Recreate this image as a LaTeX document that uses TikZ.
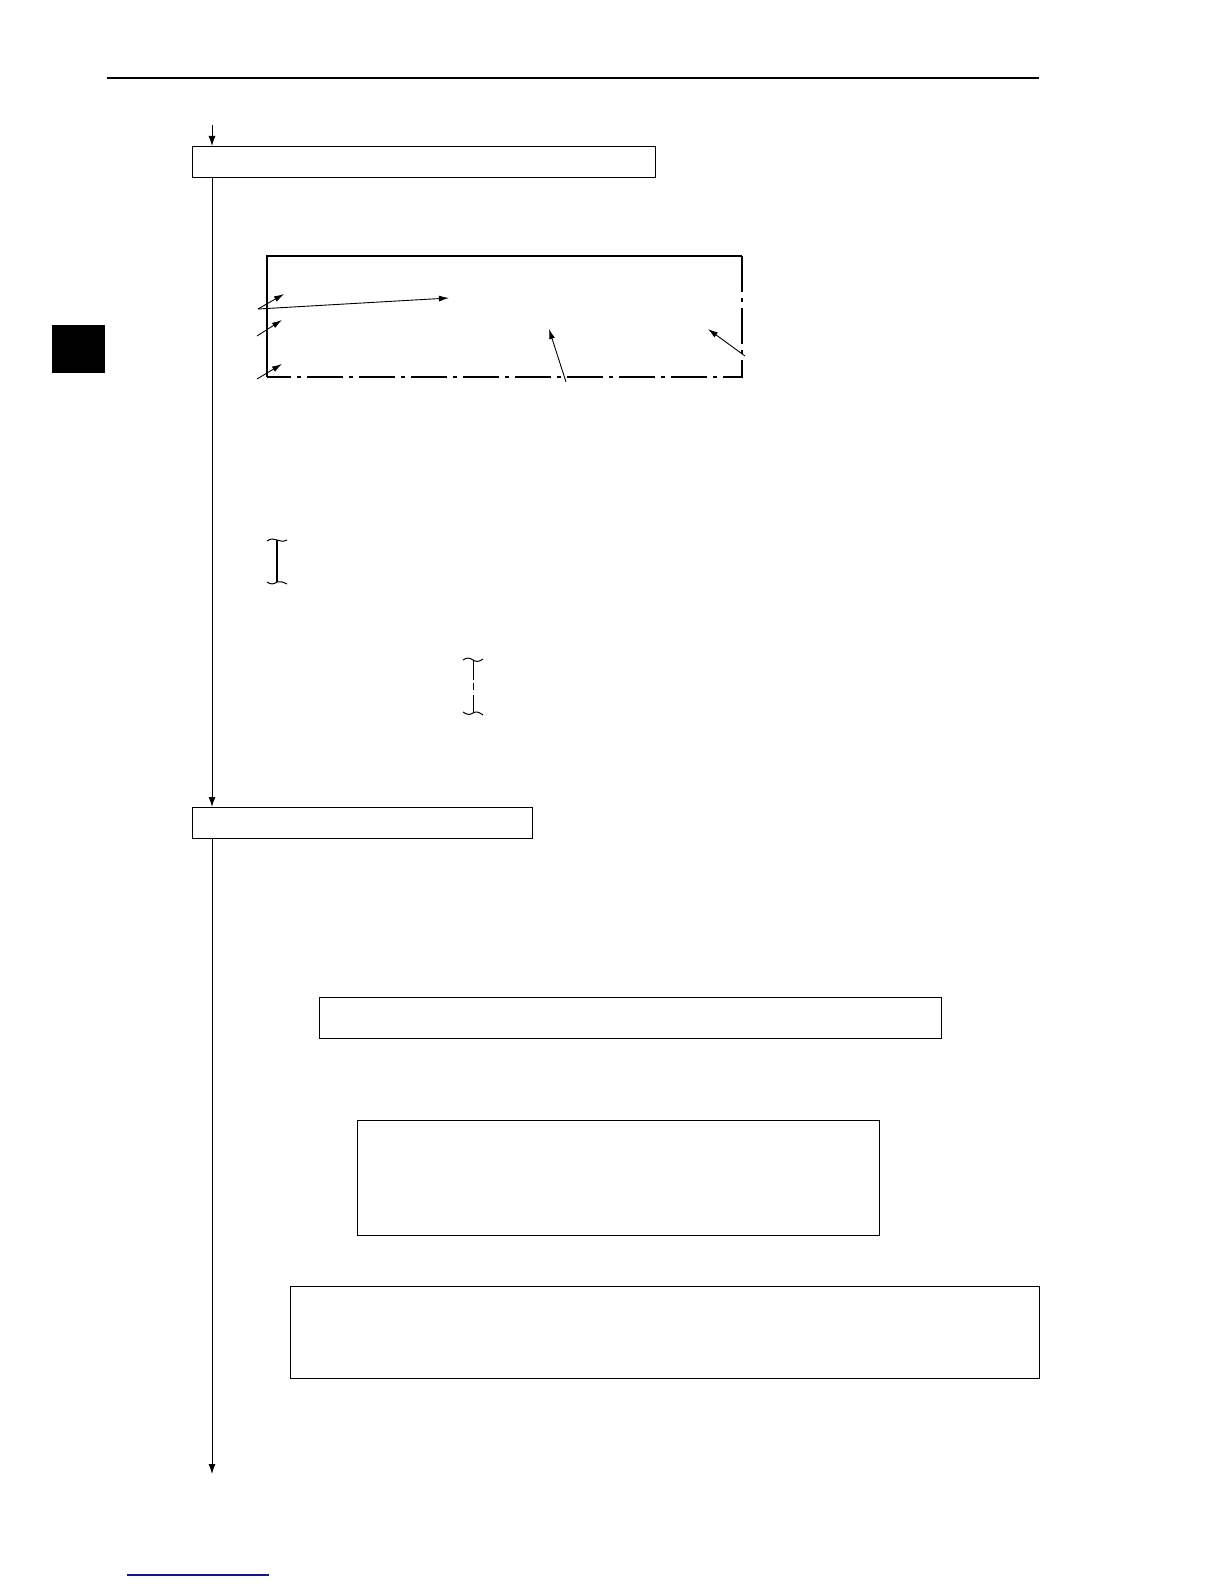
\documentclass[tikz,border=0pt]{standalone}
\usetikzlibrary{arrows.meta}
\definecolor{linkblue}{RGB}{20,20,150}
\tikzset{
  box/.style={draw=black, line width=1.2pt, fill=none, inner sep=0pt, anchor=north west},
  flow/.style={draw=black, line width=1pt, -{Latex[length=10pt,width=7pt]}},
  pointer/.style={draw=black, line width=0.9pt, -{Latex[length=10pt,width=6pt]}},
  framesolid/.style={draw=black, line width=2.2pt},
  framedash/.style={draw=black, line width=1.4pt, dash pattern=on 36pt off 6pt on 4pt off 6pt},
  brk/.style={draw=black, line width=1pt},
}
\begin{document}
\begin{tikzpicture}[x=1pt,y=-1pt]
\useasboundingbox (0,0) rectangle (1224,1584);
\fill[white] (0,0) rectangle (1224,1584);

% header rule and side tab
\coordinate (hl) at (107,78);
\coordinate (hr) at (1039,78);
\draw[line width=1.3pt] (hl) -- (hr);
\node[draw=none, fill=black, inner sep=0pt, anchor=north west, minimum width=53pt, minimum height=48pt] (tab) at (52,325) {};

% flow boxes
\node[box, minimum width=463pt, minimum height=31pt] (b1) at (192,146) {};
\node[box, minimum width=340pt, minimum height=31pt] (b2) at (192,807) {};
\node[box, minimum width=622pt, minimum height=41pt] (bA) at (319,997) {};
\node[box, minimum width=522pt, minimum height=115pt] (bB) at (357,1120) {};
\node[box, minimum width=749pt, minimum height=92pt] (bC) at (290,1286) {};

% flow line
\coordinate (s0) at (212,125);
\coordinate (s3) at (212,1474);
\draw[flow] (s0) -- (s0 |- b1.north);
\draw[flow] (s0 |- b1.south) -- (s0 |- b2.north);
\draw[flow] (s0 |- b2.south) -- (s3);

% frame drawing
\coordinate (ftl) at (267,256);
\coordinate (ftr) at (742,256);
\coordinate (fbr) at (742,377);
\coordinate (fbl) at (267,377);
\draw[framedash] (ftr) -- (fbr) -- (fbl);
\draw[framesolid] (fbl) -- (ftl) -- (ftr);

% pointers
\coordinate (p1s) at (258,309);
\coordinate (p1e) at (284,294);
\coordinate (p2e) at (449,298);
\coordinate (p3s) at (257,336);
\coordinate (p3e) at (282,320);
\coordinate (p4s) at (257,379);
\coordinate (p4e) at (282,364);
\coordinate (p5s) at (566,382);
\coordinate (p5e) at (549,329);
\coordinate (p6s) at (745,356);
\coordinate (p6e) at (708,329);
\draw[pointer] (p1s) -- (p1e);
\draw[pointer] (p1s) -- (p2e);
\draw[pointer] (p3s) -- (p3e);
\draw[pointer] (p4s) -- (p4e);
\draw[pointer] (p5s) -- (p5e);
\draw[pointer] (p6s) -- (p6e);

% bracket symbol 1 (solid)
\draw[brk] (267,541) .. controls (271,538) and (274,539) .. (277,540) .. controls (280,541) and (283,542) .. (287,540);
\draw[line width=2pt] (277,540) -- (277,582);
\draw[brk] (267,582) .. controls (271,585) and (274,584) .. (277,582) .. controls (280,581) and (283,582) .. (287,584);

% bracket symbol 2 (broken)
\draw[brk] (463,660) .. controls (467,657) and (470,658) .. (473,660) .. controls (476,662) and (479,662) .. (483,659);
\draw[brk] (473,660) -- (473,680);
\draw[brk] (473,683) -- (473,690);
\draw[brk] (473,695) -- (473,713);
\draw[brk] (463,712) .. controls (467,715) and (470,715) .. (473,713) .. controls (476,711) and (479,712) .. (483,715);

% bottom link rule
\coordinate (ll) at (127,1575);
\coordinate (lr) at (269,1575);
\draw[linkblue, line width=1.2pt] (ll) -- (lr);
\end{tikzpicture}
\end{document}
